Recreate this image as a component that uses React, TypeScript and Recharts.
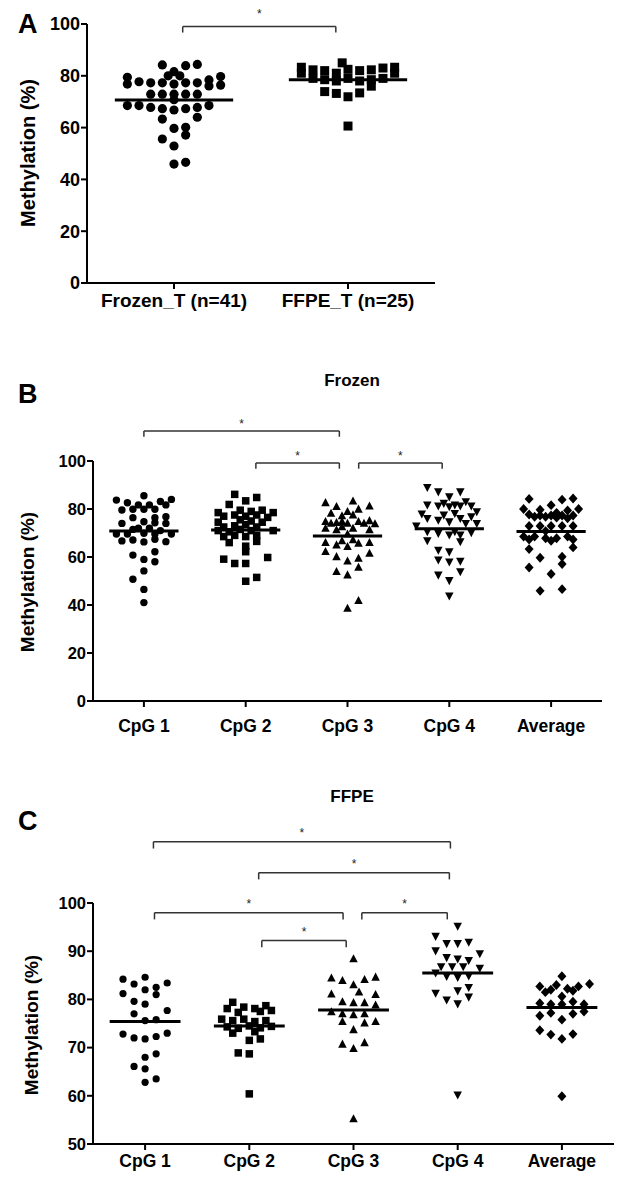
import React from 'react';
import { ScatterChart, Scatter, XAxis, YAxis, ReferenceLine, ReferenceDot } from 'recharts';

// each point: [column offset in the swarm, methylation %]
type Pt = [number, number];

const aCategories = ['Frozen_T (n=41)', 'FFPE_T (n=25)'];
const aFrozen: Pt[] = [
  [-1, 84.2], [1, 83.9], [2, 84.4], [0, 81.6], [-0.5, 80.0], [0.5, 80.0],
  [-4, 79.4], [-4, 76.8], [-3, 77.7], [-2, 77.3], [-1, 77.3], [0, 76.8], [1, 77.3], [2, 77.3], [3, 78.4], [3, 76.1], [4, 79.7], [4, 76.4],
  [-2, 72.9], [-1, 72.9], [0, 72.9], [1, 72.9], [2, 72.9], [0, 70.8],
  [-4, 68.5], [-3, 68.5], [-2, 67.8], [-1, 67.3], [0, 66.8], [1, 67.3], [2, 67.8], [3, 68.5],
  [-1, 63.3], [2, 64.0], [0, 59.7], [1, 60.1], [1, 57.1], [-1, 55.6], [0, 52.9], [0, 45.9], [1, 46.6],
];
const aFFPE: Pt[] = [
  [-4, 83.3], [-4, 81.0], [-3, 82.3], [-2, 82.0], [-1, 81.0], [-0.5, 85.0], [0, 82.5], [1, 82.0], [2, 82.3], [3, 83.0], [4, 83.3], [4, 81.0],
  [-3, 79.0], [-2, 78.5], [-1, 78.0], [0, 79.0], [1, 78.0], [2, 78.5], [3, 79.0], [2, 76.0],
  [-2, 73.9], [-1, 73.2], [0, 71.9], [1, 73.4], [0, 60.6],
];
const aMeans = [70.7, 78.5];
// [from, to, level]
const aBrackets = [[1.05, 1.93, 99]];

const cpgCategories = ['CpG 1', 'CpG 2', 'CpG 3', 'CpG 4', 'Average'];

const bCpG1: Pt[] = [
  [0, 85.5], [-5, 83.7], [5, 84.0], [-3, 82.6], [-1, 81.7], [1, 81.7], [3, 83.1], [4, 81.7],
  [-4, 79.6], [-2, 79.9], [0, 79.9], [2, 79.9],
  [-2, 76.4], [2, 76.4], [4, 76.8],
  [-4, 74.0], [0, 74.7], [2, 74.3], [4, 74.0],
  [-1, 72.0], [1, 72.0], [3, 71.0],
  [-5, 69.6], [-3, 69.6], [-2, 71.5], [0, 69.9], [2, 69.6], [5, 69.6],
  [-4, 66.7], [-2, 67.1], [0, 66.3], [2, 67.4], [4, 66.4],
  [-2, 60.8], [2, 62.2], [0, 59.0], [2, 58.0], [0, 54.2], [-2, 50.7], [0, 46.5], [0, 41.0],
];
const bCpG2: Pt[] = [
  [-2, 86.1], [2, 84.8], [0, 83.4], [-3, 81.9],
  [-5, 78.5], [-1, 79.5], [1, 79.0], [3, 79.5], [5, 78.5],
  [-4, 77.0], [-2, 77.5], [0, 77.0], [2, 77.5], [4, 76.5],
  [-5, 74.5], [-1, 75.5], [1, 75.0], [3, 74.5],
  [-4, 72.5], [-2, 73.0], [0, 73.5], [2, 72.5],
  [-5, 71.0], [-3, 70.5], [-1, 71.5], [1, 71.0], [5, 71.0],
  [-4, 68.5], [-2, 69.0], [0, 68.5], [2, 69.0],
  [-3, 66.0], [2, 66.5],
  [0, 64.5], [0, 62.2], [-4, 59.1], [4, 59.8], [-2, 57.3], [0, 57.3], [2, 51.5], [0, 49.9],
];
const bCpG3: Pt[] = [
  [-4, 82.6], [-2, 81.0], [1, 83.3], [4, 81.2],
  [-3, 78.2], [-1, 77.1], [0, 78.9], [1, 77.5], [2, 79.9],
  [-4, 74.7], [-3, 74.0], [-2, 74.3], [-1, 74.7], [0, 74.0], [2, 74.7], [3, 74.0], [4, 75.1], [5, 73.8],
  [-4, 71.9], [-2, 71.3], [-1, 72.6], [1, 71.9], [4, 71.3], [0, 69.5],
  [-4, 66.0], [-2, 65.0], [-1, 66.7], [0, 64.3], [1, 67.1], [2, 65.7], [4, 66.0],
  [-4, 62.2], [-2, 60.1], [0, 58.3], [2, 59.4], [4, 61.5],
  [2, 55.7], [-2, 53.9], [0, 52.5], [2, 41.8], [0, 38.6],
];
const bCpG4: Pt[] = [
  [-4, 89.0], [-2, 87.2], [2, 87.2], [0, 85.1], [3, 83.1],
  [-4, 81.7], [-2, 81.3], [-1, 82.4], [0, 81.0], [1, 81.7], [2, 81.3], [4, 81.3],
  [-5, 78.0], [5, 78.9],
  [-4, 76.1], [-2, 75.4], [-1, 77.5], [0, 74.7], [1, 78.2], [2, 76.1], [3, 74.0], [4, 76.8], [5, 74.0],
  [-6, 73.0],
  [-4, 70.6], [-2, 69.9], [0, 69.2], [1, 70.6], [2, 69.2], [4, 70.2],
  [-4, 66.8], [2, 66.4], [-2, 62.9], [0, 62.2],
  [-2, 58.8], [0, 58.0], [2, 58.3], [2, 53.9], [-2, 52.5], [0, 50.2], [0, 43.8],
];
const bAverage: Pt[] = [
  [-4, 84.2], [2, 83.9], [4, 84.4],
  [0, 81.6], [-5, 80.0], [5, 80.0], [-2, 79.7], [3, 79.4],
  [-4, 77.7], [-2, 77.3], [0, 77.3], [2, 77.3], [4, 77.3],
  [-3, 76.8], [-1, 76.8], [1, 76.4], [3, 76.1], [1, 78.4],
  [-4, 72.9], [-2, 72.9], [0, 72.9], [2, 72.9], [4, 72.9], [-1, 70.8],
  [-5, 68.5], [-3, 68.5], [3, 68.5], [-1, 67.8], [1, 67.8], [-4, 67.3], [4, 67.3], [0, 66.8],
  [-4, 63.3], [4, 64.0], [2, 60.1], [-2, 59.7], [2, 57.1], [-4, 55.6], [0, 52.9], [-2, 45.9], [2, 46.6],
];
const bMeans = [70.8, 71.2, 68.7, 71.8, 70.6];
const bBrackets = [[1.0, 2.92, 112.5], [2.1, 2.92, 99.2], [3.11, 3.93, 99.2]];

const cCpG1: Pt[] = [
  [-4, 84.2], [-2, 83.2], [0, 84.6], [4, 83.4], [0, 82.0], [2, 82.5], [2, 81.0], [-4, 81.2],
  [-2, 79.6], [0, 79.0], [-2, 77.0], [4, 77.7], [0, 75.6], [2, 75.8],
  [-4, 72.8], [-2, 72.0], [0, 71.8], [2, 72.3], [4, 73.0],
  [0, 68.0], [2, 68.7], [-2, 66.1], [0, 65.6], [0, 62.8], [2, 63.5],
];
const cCpG2: Pt[] = [
  [-3, 79.4],
  [-4, 78.1], [-1, 78.4], [1, 78.1], [3, 78.7], [4, 77.7], [-2, 77.3], [2, 77.5],
  [-5, 75.9], [-3, 75.6], [-1, 75.9], [1, 75.4], [3, 75.6],
  [-4, 74.3], [-2, 74.0], [0, 74.5], [2, 74.1], [4, 74.4],
  [-3, 73.0], [1, 73.3], [0, 71.5], [2, 71.8], [-2, 68.9], [0, 68.7], [0, 60.4],
];
const cCpG3: Pt[] = [
  [0, 88.4], [-4, 84.4], [-2, 83.9], [0, 83.0], [2, 84.1], [4, 84.6],
  [-4, 81.1], [1, 81.5], [4, 81.0], [-2, 79.5], [0, 79.3], [2, 79.3], [4, 78.8],
  [-4, 77.4], [-2, 77.0], [0, 76.8], [2, 77.0], [-2, 75.4], [2, 75.1], [4, 75.4],
  [0, 73.7], [-2, 70.7], [0, 69.8], [2, 71.0], [0, 55.2],
];
const cCpG4: Pt[] = [
  [0, 95.2], [-4, 93.1], [-2, 91.6], [0, 91.6], [2, 91.9], [-4, 90.1], [4, 89.5],
  [-2, 88.7], [0, 88.4], [2, 88.1], [-3, 86.8], [-1, 86.8], [1, 86.8], [4, 86.5],
  [-4, 85.5], [-2, 84.8], [0, 84.6], [2, 84.9],
  [-4, 81.3], [0, 81.8], [2, 82.5], [2, 80.5], [-2, 79.9], [0, 79.1], [0, 60.2],
];
const cAverage: Pt[] = [
  [0, 84.8], [-4, 82.7], [-2, 82.0], [-1, 83.0], [1, 82.2], [3, 82.7], [5, 83.2],
  [-3, 81.5], [2, 81.8], [0, 80.6],
  [-4, 79.2], [-2, 79.0], [0, 79.0], [2, 79.5], [4, 79.0],
  [-4, 76.6], [-2, 77.2], [2, 77.0], [4, 77.5], [0, 75.8],
  [-4, 73.6], [-2, 72.7], [2, 72.8], [0, 71.8], [0, 59.9],
];
const cMeans = [75.4, 74.5, 77.8, 85.5, 78.3];
const cBrackets = [
  [1.08, 3.93, 112.7], [2.09, 3.92, 106.3], [1.09, 2.9, 98.0], [3.08, 3.9, 98.0], [2.12, 2.93, 92.2],
];

const FONT = '"Liberation Sans", Arial, Helvetica, sans-serif';

const dot = (r: number) => (p: any) => <circle cx={p.cx} cy={p.cy} r={r} fill="#000" />;
const square = (s: number) => (p: any) => (
  <rect x={p.cx - s / 2} y={p.cy - s / 2} width={s} height={s} fill="#000" />
);
const triUp = (s: number) => (p: any) => (
  <polygon
    points={`${p.cx},${p.cy - s * 0.55} ${p.cx - s / 2},${p.cy + s * 0.4} ${p.cx + s / 2},${p.cy + s * 0.4}`}
    fill="#000"
  />
);
const triDown = (s: number) => (p: any) => (
  <polygon
    points={`${p.cx},${p.cy + s * 0.55} ${p.cx - s / 2},${p.cy - s * 0.4} ${p.cx + s / 2},${p.cy - s * 0.4}`}
    fill="#000"
  />
);
const diamond = (s: number) => (p: any) => (
  <polygon
    points={`${p.cx},${p.cy - s * 0.55} ${p.cx + s / 2},${p.cy} ${p.cx},${p.cy + s * 0.55} ${p.cx - s / 2},${p.cy}`}
    fill="#000"
  />
);

interface PanelProps {
  top: number;
  height: number;
  plotLeft: number;
  right: number;
  marginTop: number;
  marginBottom: number;
  xAxisHeight: number;
  xTickMargin: number;
  xFont: number;
  yFont: number;
  categories: string[];
  groups: Pt[][];
  shapes: ((p: any) => React.ReactElement)[];
  means: number[];
  brackets: number[][];
  step: number;
  yDomain: [number, number];
  yTicks: number[];
  bracketTick: number;
  starGap: number;
}

const Panel = (p: PanelProps) => {
  const n = p.categories.length;
  const stroke = { stroke: '#000', strokeWidth: 2 };
  const star = (props: any) => (
    <text x={props.cx} y={props.cy - p.starGap + 5} textAnchor="middle" fontSize={12} fontFamily={FONT} fill="#222">
      *
    </text>
  );
  return (
    <div style={{ position: 'absolute', left: 0, top: p.top }}>
      <ScatterChart
        width={626}
        height={p.height}
        margin={{ top: p.marginTop, right: p.right, bottom: p.marginBottom, left: 0 }}
      >
        <XAxis
          type="number"
          dataKey="x"
          domain={[0.5, n + 0.5]}
          ticks={p.categories.map((_, i) => i + 1)}
          interval={0}
          tickFormatter={(v: number) => p.categories[v - 1] ?? ''}
          height={p.xAxisHeight}
          tickMargin={p.xTickMargin}
          axisLine={stroke}
          tickLine={stroke}
          tick={{ fill: '#000', fontSize: p.xFont, fontWeight: 700, fontFamily: FONT }}
        />
        <YAxis
          type="number"
          dataKey="y"
          domain={p.yDomain}
          ticks={p.yTicks}
          interval={0}
          width={p.plotLeft}
          tickMargin={1}
          axisLine={stroke}
          tickLine={stroke}
          tick={{ fill: '#000', fontSize: p.yFont, fontWeight: 700, fontFamily: FONT }}
        />
        {p.groups.map((g, i) => (
          <Scatter
            key={i}
            data={g.map(([c, v]) => ({ x: i + 1 + c * p.step, y: v }))}
            shape={p.shapes[i]}
            isAnimationActive={false}
          />
        ))}
        {p.means.map((m, i) => (
          <ReferenceLine
            key={'m' + i}
            segment={[{ x: i + 1 - 0.34, y: m }, { x: i + 1 + 0.34, y: m }]}
            stroke="#000"
            strokeWidth={3}
            ifOverflow="visible"
          />
        ))}
        {p.brackets.map(([a, b, lvl], i) => (
          <React.Fragment key={'b' + i}>
            <ReferenceLine segment={[{ x: a, y: lvl }, { x: b, y: lvl }]} stroke="#333" strokeWidth={1.5} ifOverflow="visible" />
            <ReferenceLine segment={[{ x: a, y: lvl }, { x: a, y: lvl - p.bracketTick }]} stroke="#333" strokeWidth={1.5} ifOverflow="visible" />
            <ReferenceLine segment={[{ x: b, y: lvl }, { x: b, y: lvl - p.bracketTick }]} stroke="#333" strokeWidth={1.5} ifOverflow="visible" />
            <ReferenceDot x={(a + b) / 2} y={lvl} r={0} shape={star} ifOverflow="visible" />
          </React.Fragment>
        ))}
      </ScatterChart>
    </div>
  );
};

const letter = (t: string, top: number) => (
  <div style={{ position: 'absolute', left: 18, top, fontSize: 27, fontWeight: 700, fontFamily: FONT, lineHeight: 1 }}>
    {t}
  </div>
);
const title = (t: string, top: number) => (
  <div
    style={{ position: 'absolute', left: 352, top, transform: 'translateX(-50%)', fontSize: 17, fontWeight: 700, fontFamily: FONT, lineHeight: 1 }}
  >
    {t}
  </div>
);
const yLabel = (cx: number, cy: number, size: number) => (
  <div
    style={{
      position: 'absolute', left: cx, top: cy, transform: 'translate(-50%, -50%) rotate(-90deg)',
      fontSize: size, fontWeight: 700, fontFamily: FONT, whiteSpace: 'nowrap', lineHeight: 1,
    }}
  >
    Methylation (%)
  </div>
);

export default function App() {
  return (
    <div style={{ position: 'absolute', left: 0, top: 0, width: 626, height: 1185, background: '#fff' }}>
      <Panel
        top={0} height={330} plotLeft={87} right={191} marginTop={24} marginBottom={17} xAxisHeight={30} xTickMargin={5}
        xFont={19} yFont={18}
        categories={aCategories} groups={[aFrozen, aFFPE]} shapes={[dot(4.6), square(9)]}
        means={aMeans} brackets={aBrackets} step={0.067} yDomain={[0, 100]} yTicks={[0, 20, 40, 60, 80, 100]}
        bracketTick={2.3} starGap={14}
      />
      <Panel
        top={370} height={400} plotLeft={93} right={24} marginTop={91} marginBottom={24} xAxisHeight={45} xTickMargin={13}
        xFont={17.5} yFont={16.5}
        categories={cpgCategories} groups={[bCpG1, bCpG2, bCpG3, bCpG4, bAverage]}
        shapes={[dot(3.7), square(7.5), triUp(8.5), triDown(8.5), diamond(9)]}
        means={bMeans} brackets={bBrackets} step={0.054} yDomain={[0, 100]} yTicks={[0, 20, 40, 60, 80, 100]}
        bracketTick={2.4} starGap={8}
      />
      <Panel
        top={790} height={395} plotLeft={93} right={12} marginTop={113} marginBottom={6} xAxisHeight={35} xTickMargin={5}
        xFont={17.5} yFont={16.5}
        categories={cpgCategories} groups={[cCpG1, cCpG2, cCpG3, cCpG4, cAverage]}
        shapes={[dot(3.6), square(7.5), triUp(8.5), triDown(8.5), diamond(9)]}
        means={cMeans} brackets={cBrackets} step={0.053} yDomain={[50, 100]} yTicks={[50, 60, 70, 80, 90, 100]}
        bracketTick={1.4} starGap={10}
      />
      {letter('A', 11)}
      {letter('B', 381)}
      {letter('C', 808)}
      {title('Frozen', 372)}
      {title('FFPE', 788)}
      {yLabel(28, 153, 20)}
      {yLabel(27, 582, 19)}
      {yLabel(31, 1025, 19)}
    </div>
  );
}
